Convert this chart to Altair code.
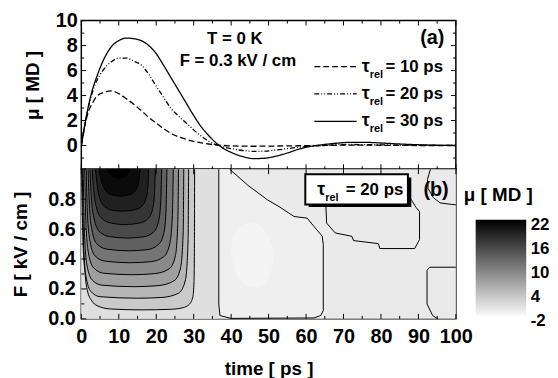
import altair as alt
import pandas as pd

FONT = "Liberation Sans"

# ---------------- panel (a): mu(t) at F = 0.3 kV/cm ----------------
time_ps = [0, 1, 2, 3, 4, 6, 8, 10, 12, 14, 16, 18, 20, 22, 24, 26, 28, 30, 32, 34,
           36, 38, 40, 43, 46, 49, 52, 55, 58, 61, 64, 68, 72, 76, 80, 85, 90, 95, 100]
mu_tau10 = [0, 1.7, 2.8, 3.4, 3.9, 4.25, 4.37, 4.15, 3.75, 3.3, 2.8, 2.25, 1.8, 1.35, 0.95,
            0.7, 0.5, 0.33, 0.21, 0.12, 0.05, 0.0, -0.03, -0.05, -0.06, -0.05, -0.04, -0.03,
            -0.02, -0.01, 0.0, 0.02, 0.03, 0.03, 0.02, 0.01, 0.0, 0.0, 0.0]
mu_tau20 = [0, 1.7, 3.2, 4.3, 5.1, 6.1, 6.7, 7.0, 7.0, 6.75, 6.45, 5.7, 4.75, 3.85, 2.95,
            2.35, 1.8, 1.25, 0.75, 0.35, 0.05, -0.12, -0.25, -0.4, -0.47, -0.45, -0.36, -0.25,
            -0.14, -0.06, 0.0, 0.06, 0.08, 0.07, 0.05, 0.03, 0.02, 0.01, 0.0]
mu_tau30 = [0, 1.8, 3.3, 4.5, 5.4, 6.9, 7.9, 8.4, 8.6, 8.55, 8.4, 8.0, 7.35, 6.4, 5.4,
            4.4, 3.4, 2.4, 1.5, 0.8, 0.2, -0.25, -0.55, -0.88, -1.05, -1.02, -0.85, -0.6,
            -0.3, -0.08, 0.05, 0.18, 0.25, 0.25, 0.2, 0.12, 0.06, 0.02, 0.0]
series_names = ["10 ps", "20 ps", "30 ps"]
legend_rows_mu = [6.31, 4.13, 1.94]

# ---------------- panel (b): contour map mu(t, F), tau_rel = 20 ps ----------------
contour_levels = [2, 4, 6, 8, 10, 12, 14, 16, 18, 20, 22]
contour_02 = [(0.05, 1.0), (0.4, 0.55), (1.0, 0.3), (1.6, 0.19), (2.8, 0.12), (4.2, 0.088), (7.8, 0.066),
              (16.0, 0.06), (24.0, 0.064), (27.2, 0.075), (28.9, 0.099), (29.8, 0.15), (30.1, 0.25),
              (30.2, 0.5), (30.25, 1.0)]
contour_04 = [(0.25, 1.0), (0.55, 0.56), (1.2, 0.29), (2.5, 0.185), (5.0, 0.148), (15.0, 0.138),
              (21.5, 0.143), (26.0, 0.172), (27.8, 0.26), (28.5, 0.52), (28.65, 1.0)]
contour_06 = [(0.5, 1.0), (0.8, 0.6), (1.5, 0.36), (2.9, 0.26), (5.5, 0.225), (14.0, 0.215),
              (20.5, 0.222), (24.8, 0.255), (26.5, 0.34), (27.2, 0.58), (27.35, 1.0)]
contour_08 = [(0.9, 1.0), (1.2, 0.66), (1.9, 0.44), (3.3, 0.34), (6.0, 0.305), (13.5, 0.295),
              (19.5, 0.302), (23.5, 0.335), (25.1, 0.42), (25.75, 0.63), (25.95, 1.0)]
contour_10 = [(1.3, 1.0), (1.6, 0.72), (2.3, 0.52), (3.7, 0.42), (6.5, 0.385), (13.0, 0.375),
              (18.5, 0.382), (22.0, 0.415), (23.6, 0.5), (24.3, 0.68), (24.55, 1.0)]
contour_12 = [(1.8, 1.0), (2.1, 0.78), (2.8, 0.6), (4.2, 0.5), (7.0, 0.465), (12.5, 0.455),
              (17.5, 0.462), (20.5, 0.495), (22.0, 0.57), (22.6, 0.72), (22.85, 1.0)]
contour_14 = [(2.3, 1.0), (2.65, 0.82), (3.4, 0.67), (4.8, 0.585), (7.5, 0.55), (12.0, 0.54),
              (16.5, 0.548), (19.3, 0.58), (20.6, 0.65), (21.2, 0.78), (21.45, 1.0)]
contour_16 = [(2.9, 1.0), (3.3, 0.86), (4.1, 0.74), (5.5, 0.67), (8.0, 0.64), (11.5, 0.63),
              (15.5, 0.64), (17.8, 0.67), (19.0, 0.73), (19.55, 0.84), (19.75, 1.0)]
contour_18 = [(3.8, 1.0), (4.2, 0.9), (5.0, 0.8), (6.5, 0.745), (8.5, 0.725), (11.0, 0.72),
              (14.0, 0.728), (16.0, 0.75), (17.2, 0.8), (17.75, 0.88), (17.95, 1.0)]
contour_20 = [(4.7, 1.0), (5.3, 0.93), (6.3, 0.865), (8.0, 0.83), (10.5, 0.82), (13.0, 0.83),
              (14.5, 0.86), (15.3, 0.91), (15.7, 1.0)]
contour_22 = [(6.9, 1.0), (7.7, 0.965), (8.8, 0.945), (10.0, 0.94), (11.2, 0.945), (12.3, 0.965),
              (13.1, 1.0)]
contours = [contour_02, contour_04, contour_06, contour_08, contour_10, contour_12,
            contour_14, contour_16, contour_18, contour_20, contour_22]

# zero-level contours (ordered polylines)
zero_main = [(39.6, 1.0), (44.4, 0.894), (49.7, 0.795), (52.8, 0.75), (56.8, 0.684), (60.3, 0.673),
             (62.1, 0.618), (64.3, 0.553), (64.6, 0.497), (64.6, 0.055), (63.9, 0.022), (62.1, 0.006),
             (40.0, 0.003), (37.0, 0.022), (36.7, 0.1), (36.7, 1.0)]
zero_under_box = [(65.3, 0.9), (65.3, 0.75), (65.5, 0.64), (67.8, 0.574), (72.2, 0.552), (72.7, 0.523),
                  (79.3, 0.503), (79.7, 0.47), (89.0, 0.47), (90.3, 0.53), (90.3, 0.717),
                  (89.4, 0.744), (88.0, 0.8)]
zero_top_right = [(93.2, 1.0), (92.4, 0.93), (92.6, 0.87), (94.0, 0.81), (95.8, 0.775),
                  (98.8, 0.765), (100.0, 0.762)]
zero_bottom_right = [(100.0, 0.345), (93.0, 0.345), (92.3, 0.325), (92.3, 0.1), (93.8, 0.022),
                     (95.2, 0.0)]

# negative pocket (inside zero_main) and its lightest spot
neg_t = [36.7, 39.6, 44.4, 49.7, 52.8, 56.8, 60.3, 62.1, 64.3, 64.6]
neg_top = [1.0, 1.0, 0.894, 0.795, 0.75, 0.684, 0.673, 0.618, 0.553, 0.497]
blob_t = [40.0, 40.8, 42.5, 44.5, 46.5, 48.5, 50.3, 51.5]
blob_lo = [0.44, 0.34, 0.26, 0.22, 0.21, 0.23, 0.29, 0.42]
blob_hi = [0.46, 0.56, 0.62, 0.64, 0.635, 0.6, 0.53, 0.45]
level_background = 0.0
level_left_band = 1.0
level_negative = -0.5
level_blob = -1.0

colorbar_values = [-2, 4, 10, 16, 22]
x_tick_labels = [0, 10, 20, 30, 40, 50, 60, 70, 80, 90, 100]
top_y_labels = [0, 2, 4, 6, 8, 10]
bot_y_labels = [0.0, 0.2, 0.4, 0.6, 0.8]

# ---------------- layout ----------------
W, HT, HB = 378, 150, 151
xscale = alt.Scale(domain=[0, 100], nice=False, zero=False)
ytop = alt.Scale(domain=[-1.9, 10], nice=False, zero=False)
ybot = alt.Scale(domain=[0, 1], nice=False, zero=False)
ycbar = alt.Scale(domain=[-2.74, 34.62], nice=False, zero=False)
cscale = alt.Scale(domain=[-2, 22], range=["#ffffff", "#000000"], clamp=True, interpolate="rgb")

ax_top_y = alt.Axis(values=top_y_labels, format="d", ticks=False, domain=False, grid=False,
                    labelPadding=4, titlePadding=13, title="μ [ MD ]", titleY=65, labelOverlap=False,
                    labelFlush=False)
ax_bot_y = alt.Axis(values=bot_y_labels, format=".1f", ticks=False, domain=False, grid=False,
                    labelPadding=6, titlePadding=18, title="F [ kV / cm ]", labelOverlap=False,
                    labelFlush=False)
ax_bot_x = alt.Axis(values=x_tick_labels, format="d", ticks=False, domain=False, grid=False,
                    labelPadding=8, titlePadding=13, title="time [ ps ]", labelOverlap=False,
                    labelFlush=False)
ax_cbar = alt.Axis(orient="right", offset=71, values=colorbar_values, labelExpr="'' + datum.value",
                   ticks=False, domain=False, grid=False, labelPadding=4, labelOffset=5,
                   labelFontSize=17, labelOverlap=False, labelFlush=False, title=None)
cenc = alt.Color("v:Q", scale=cscale, legend=None)


def ticks_x(vals, length, h, side, ax):
    df = pd.DataFrame({"t": vals})
    if side == "bottom":
        enc = dict(y=alt.value(h), y2=alt.value(h - length))
    else:
        enc = dict(y=alt.value(0), y2=alt.value(length))
    return alt.Chart(df).mark_rule(color="black", strokeWidth=1).encode(
        x=alt.X("t:Q", scale=xscale, axis=ax), **enc)


def ticks_y(vals, length, scale, side, ax):
    df = pd.DataFrame({"y": vals})
    if side == "left":
        enc = dict(x=alt.value(0), x2=alt.value(length))
    else:
        enc = dict(x=alt.value(W), x2=alt.value(W - length))
    return alt.Chart(df).mark_rule(color="black", strokeWidth=1).encode(
        y=alt.Y("y:Q", scale=scale, axis=ax), **enc)


# ---------------- top chart ----------------
n = len(time_ps)
curves = pd.DataFrame({
    "t": time_ps * 3,
    "mu": mu_tau10 + mu_tau20 + mu_tau30,
    "s": [series_names[0]] * n + [series_names[1]] * n + [series_names[2]] * n,
})
dash = alt.StrokeDash("s:N", scale=alt.Scale(domain=series_names,
                                             range=[[6, 3], [5, 2, 1, 2, 1, 2], [1, 0]]), legend=None)
lines = alt.Chart(curves).mark_line(color="black", strokeWidth=1.3, interpolate="monotone",
                                    clip=True).encode(
    x=alt.X("t:Q", scale=xscale, axis=None),
    y=alt.Y("mu:Q", scale=ytop, axis=ax_top_y),
    strokeDash=dash, detail="s:N")

leg_df = pd.DataFrame({"t": [62.2] * 3, "t2": [73.5] * 3, "mu": legend_rows_mu, "s": series_names})
leg_lines = alt.Chart(leg_df).mark_rule(color="black", strokeWidth=1.3).encode(
    x=alt.X("t:Q", scale=xscale, axis=None), x2="t2:Q",
    y=alt.Y("mu:Q", scale=ytop, axis=ax_top_y), strokeDash=dash)

tau_df = pd.DataFrame({"t": [74.9] * 3, "mu": legend_rows_mu, "txt": ["τ"] * 3})
rel_df = pd.DataFrame({"t": [77.0] * 3, "mu": legend_rows_mu, "txt": ["rel"] * 3})
val_df = pd.DataFrame({"t": [81.2] * 3, "mu": legend_rows_mu, "txt": ["= " + s for s in series_names]})


def txt(df, size, dy=0, align="left"):
    return alt.Chart(df).mark_text(font=FONT, fontWeight="bold", fontSize=size, align=align,
                                   baseline="middle", dy=dy, color="black").encode(
        x=alt.X("t:Q", scale=xscale, axis=None),
        y=alt.Y("mu:Q", scale=ytop, axis=ax_top_y), text="txt:N")


ann_df = pd.DataFrame({"t": [41.0, 41.8], "mu": [8.49, 6.75], "txt": ["T = 0 K", "F = 0.3 kV / cm"]})
a_df = pd.DataFrame({"t": [93.7], "mu": [8.57], "txt": ["(a)"]})

top = alt.layer(
    lines, leg_lines,
    txt(tau_df, 18), txt(rel_df, 11, dy=8), txt(val_df, 17),
    txt(ann_df, 17, align="center"), txt(a_df, 20, align="center"),
    ticks_x(list(range(0, 101, 10)), 5, HT, "bottom", None), ticks_x(list(range(5, 100, 10)), 3, HT, "bottom", None),
    ticks_x(list(range(0, 101, 10)), 5, HT, "top", None), ticks_x(list(range(5, 100, 10)), 3, HT, "top", None),
    ticks_y([0, 2, 4, 6, 8, 10], 5, ytop, "left", ax_top_y), ticks_y([-1, 1, 3, 5, 7, 9], 3, ytop, "left", ax_top_y),
    ticks_y([0, 2, 4, 6, 8, 10], 5, ytop, "right", ax_top_y), ticks_y([-1, 1, 3, 5, 7, 9], 3, ytop, "right", ax_top_y),
).properties(width=W, height=HT)

# ---------------- bottom chart ----------------
BX = alt.X("t:Q", scale=xscale, axis=ax_bot_x)

bg_df = pd.DataFrame({"t": [0.0, 0.0], "t2": [100.0, 36.7], "F": [0.0, 0.0], "F2": [1.0, 1.0],
                      "v": [level_background, level_left_band]})
bg = alt.Chart(bg_df).mark_rect().encode(x=BX, x2="t2:Q", y=alt.Y("F:Q", scale=ybot, axis=ax_bot_y),
                                         y2="F2:Q", color=cenc)

neg_df = pd.DataFrame({"t": neg_t, "F": neg_top, "F2": [0.004] * len(neg_t), "v": [level_negative] * len(neg_t)})
neg = alt.Chart(neg_df).mark_area(interpolate="linear").encode(
    x=BX, y=alt.Y("F:Q", scale=ybot, axis=ax_bot_y, stack=None), y2="F2:Q", color=cenc)

blob_df = pd.DataFrame({"t": blob_t, "F": blob_hi, "F2": blob_lo, "v": [level_blob] * len(blob_t)})
blob = alt.Chart(blob_df).mark_area(interpolate="monotone").encode(
    x=BX, y=alt.Y("F:Q", scale=ybot, axis=ax_bot_y, stack=None), y2="F2:Q", color=cenc)

fills = []
rows = []
for lev, pts in zip(contour_levels, contours):
    d = pd.DataFrame({"t": [p[0] for p in pts], "F": [p[1] for p in pts],
                      "F2": [1.0] * len(pts), "v": [lev + 1] * len(pts)})
    fills.append(alt.Chart(d).mark_area(interpolate="monotone").encode(
        x=BX, y=alt.Y("F:Q", scale=ybot, axis=ax_bot_y, stack=None), y2="F2:Q", color=cenc))
    for i, p in enumerate(pts):
        rows.append({"t": p[0], "F": p[1], "c": f"L{lev}", "i": i})
cl = pd.DataFrame(rows)
contour_lines = alt.Chart(cl).mark_line(color="black", strokeWidth=1, interpolate="monotone").encode(
    x=BX, y=alt.Y("F:Q", scale=ybot, axis=ax_bot_y), detail="c:N", order="i:Q")

zrows = []
for name, pts in [("m", zero_main), ("b", zero_under_box), ("tr", zero_top_right), ("br", zero_bottom_right)]:
    for i, p in enumerate(pts):
        zrows.append({"t": p[0], "F": p[1], "c": name, "i": i})
zl = pd.DataFrame(zrows)
zero_lines = alt.Chart(zl).mark_line(color="black", strokeWidth=1, interpolate="linear").encode(
    x=BX, y=alt.Y("F:Q", scale=ybot, axis=ax_bot_y), detail="c:N", order="i:Q")

shadow_df = pd.DataFrame({"t": [60.7], "t2": [88.1], "F": [0.945], "F2": [0.748]})
shadow = alt.Chart(shadow_df).mark_rect(color="black").encode(
    x=BX, x2="t2:Q", y=alt.Y("F:Q", scale=ybot, axis=ax_bot_y), y2="F2:Q")
box_df = pd.DataFrame({"t": [59.8], "t2": [87.2], "F": [0.967], "F2": [0.765]})
box = alt.Chart(box_df).mark_rect(color="white", stroke="black", strokeWidth=2).encode(
    x=BX, x2="t2:Q", y=alt.Y("F:Q", scale=ybot, axis=ax_bot_y), y2="F2:Q")

btau = pd.DataFrame({"t": [63.0], "F": [0.861], "txt": ["τ"]})
brel = pd.DataFrame({"t": [65.1], "F": [0.861], "txt": ["rel"]})
bval = pd.DataFrame({"t": [70.6], "F": [0.861], "txt": ["= 20 ps"]})
blab = pd.DataFrame({"t": [94.7], "F": [0.861], "txt": ["(b)"]})


def btxt(df, size, dy=0, align="left"):
    return alt.Chart(df).mark_text(font=FONT, fontWeight="bold", fontSize=size, align=align,
                                   baseline="middle", dy=dy, color="black").encode(
        x=BX, y=alt.Y("F:Q", scale=ybot, axis=ax_bot_y), text="txt:N")


map_layers = alt.layer(
    bg, neg, blob, *fills, contour_lines, zero_lines, shadow, box,
    btxt(btau, 18), btxt(brel, 11, dy=8), btxt(bval, 17), btxt(blab, 20, align="center"),
    ticks_x(list(range(0, 101, 10)), 5, HB, "bottom", ax_bot_x),
    ticks_x(list(range(5, 100, 10)), 3, HB, "bottom", ax_bot_x),
    ticks_x(list(range(0, 101, 10)), 5, HB, "top", ax_bot_x),
    ticks_y([0.0, 0.2, 0.4, 0.6, 0.8, 1.0], 5, ybot, "left", ax_bot_y),
    ticks_y([0.1, 0.3, 0.5, 0.7, 0.9], 3, ybot, "left", ax_bot_y),
)

# colour bar (its own value axis on the right)
cbar_df = pd.DataFrame({"lo": [colorbar_values[0]], "hi": [colorbar_values[-1]]})
cbar = alt.Chart(cbar_df).mark_rect(
    fill=alt.Gradient(gradient="linear",
                      stops=[alt.GradientStop(color="#000000", offset=0),
                             alt.GradientStop(color="#fafafa", offset=1)],
                      x1=0, x2=0, y1=0, y2=1)
).encode(x=alt.value(W + 20), x2=alt.value(W + 71),
         y=alt.Y("hi:Q", scale=ycbar, axis=ax_cbar), y2="lo:Q")
cbar_title_df = pd.DataFrame({"y": [28.2], "txt": ["μ [ MD ]"]})
cbar_title = alt.Chart(cbar_title_df).mark_text(font=FONT, fontWeight="bold", fontSize=19, align="left",
                                                baseline="middle", color="black").encode(
    x=alt.value(W + 8), y=alt.Y("y:Q", scale=ycbar, axis=ax_cbar), text="txt:N")
cbar_layers = alt.layer(cbar, cbar_title)

bottom = alt.layer(map_layers, cbar_layers).resolve_scale(y="independent").properties(width=W, height=HB)

chart = alt.vconcat(top, bottom, spacing=0, bounds="flush").properties(
    padding={"left": 2, "top": 0, "right": 0, "bottom": 0}
).configure_view(stroke="black", strokeWidth=1.5).configure_axis(
    labelFont=FONT, titleFont=FONT, labelFontSize=20, titleFontSize=19, labelOverlap=False,
    labelFontWeight="bold", titleFontWeight="bold", labelColor="black", titleColor="black")

chart.save("out.html", embed_options={"renderer": "svg", "actions": False})
